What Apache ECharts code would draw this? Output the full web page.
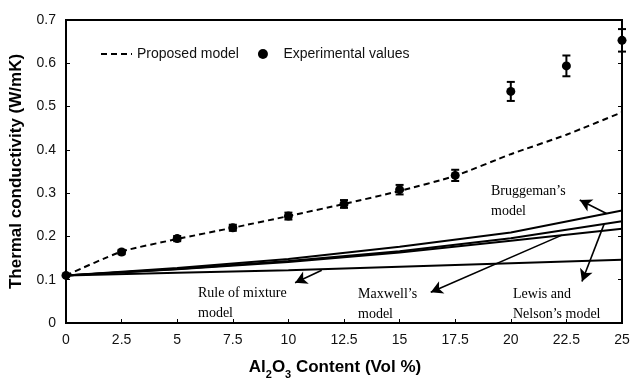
<!DOCTYPE html>
<html>
<head>
<meta charset="utf-8">
<script src="https://cdn.jsdelivr.net/npm/echarts@6/dist/echarts.min.js"></script>
<style>
  html, body { margin: 0; padding: 0; background: #fff; }
  #chart { width: 633px; height: 385px; }
</style>
</head>
<body>
<div id="chart"></div>
<script>
// Al2O3 content (vol %) where conductivity was measured / predicted
var contentVol = [0, 2.5, 5, 7.5, 10, 12.5, 15, 17.5, 20, 22.5, 25];
// Measured thermal conductivity (W/mK) and its spread
var experimental = [0.11, 0.164, 0.195, 0.220, 0.247, 0.275, 0.308, 0.341, 0.535, 0.594, 0.653];
var experimentalErr = [0, 0.005, 0.006, 0.007, 0.008, 0.009, 0.011, 0.013, 0.022, 0.024, 0.026];
// Proposed model prediction at the same contents
var proposedModel = [0.11, 0.165, 0.194, 0.220, 0.247, 0.275, 0.305, 0.340, 0.390, 0.435, 0.487];

// Classical models, evaluated every 5 vol %
var modelContent = [0, 5, 10, 15, 20, 25];
var bruggeman = [0.11, 0.127, 0.148, 0.176, 0.209, 0.260];
var lewisNelson = [0.11, 0.125, 0.143, 0.166, 0.196, 0.235];
var maxwell = [0.11, 0.124, 0.141, 0.163, 0.190, 0.218];
var ruleOfMixture = [0.11, 0.116, 0.122, 0.130, 0.138, 0.146];

var xTicks = [0, 2.5, 5, 7.5, 10, 12.5, 15, 17.5, 20, 22.5, 25];
var yTicks = [0, 0.1, 0.2, 0.3, 0.4, 0.5, 0.6, 0.7];

function pairs(xs, ys) {
  return xs.map(function (x, i) { return [x, ys[i]]; });
}

var chart = echarts.init(document.getElementById('chart'));

var labelFont = { fontFamily: 'Liberation Sans, Arial, sans-serif', fontSize: 14, color: '#111' };
var arrowStyle = { color: '#000', width: 1.6, type: 'solid' };

function arrow(from, to) {
  return {
    silent: true,
    symbol: ['none', 'arrow'],
    symbolSize: [10, 12],
    label: { show: false },
    lineStyle: arrowStyle,
    data: [[{ coord: from }, { coord: to }]]
  };
}

function modelLine(name, ys, arrowFrom, arrowTo) {
  return {
    name: name,
    type: 'line',
    data: pairs(modelContent, ys),
    symbol: 'none',
    lineStyle: { color: '#000', width: 2 },
    z: 3,
    markLine: arrow(arrowFrom, arrowTo)
  };
}

var option = {
  animation: false,
  backgroundColor: '#fff',
  grid: {
    left: 63, right: 11, top: 20, bottom: 56,
    show: true, borderColor: '#000', borderWidth: 2
  },
  legend: {
    left: 95, top: 42,
    itemWidth: 31, itemHeight: 10, itemGap: 19, itemTextGap: 8,
    textStyle: labelFont,
    data: [
      { name: 'Proposed model', itemStyle: { opacity: 0 } },
      { name: 'Experimental values', icon: 'circle' }
    ]
  },
  xAxis: {
    type: 'value', min: 0, max: 25, interval: 2.5,
    name: '{b|Al}{s|2}{b|O}{s|3}{b| Content (Vol %)}',
    nameLocation: 'middle', nameGap: 33,
    nameTextStyle: {
      padding: [0, 18, 0, 0],
      rich: {
        b: { fontFamily: 'Liberation Sans, Arial, sans-serif', fontSize: 17, fontWeight: 'bold', color: '#000', verticalAlign: 'bottom', lineHeight: 20 },
        s: { fontFamily: 'Liberation Sans, Arial, sans-serif', fontSize: 11, fontWeight: 'bold', color: '#000', verticalAlign: 'bottom', lineHeight: 14, padding: [0, 0, -4, 0] }
      }
    },
    axisLine: { lineStyle: { color: '#000', width: 2 } },
    axisTick: { inside: true, length: 4, lineStyle: { color: '#000', width: 1 } },
    axisLabel: Object.assign({ margin: 10, formatter: function (v) { return String(v); } }, labelFont),
    splitLine: { show: false }
  },
  yAxis: [{
    type: 'value', min: 0, max: 0.7, interval: 0.1,
    name: 'Thermal conductivity (W/mK)',
    nameLocation: 'middle', nameGap: 41,
    nameTextStyle: { fontFamily: 'Liberation Sans, Arial, sans-serif', fontSize: 17, fontWeight: 'bold', color: '#000' },
    axisLine: { show: true, lineStyle: { color: '#000', width: 2 } },
    axisTick: { show: true, inside: true, length: 4, lineStyle: { color: '#000', width: 1 } },
    axisLabel: Object.assign({ margin: 10, formatter: function (v) { return v === 0 ? '0' : v.toFixed(1); } }, labelFont),
    splitLine: { show: false }
  }, {
    type: 'value', min: 0, max: 0.7, interval: 0.1, position: 'right',
    axisLine: { show: true, lineStyle: { color: '#000', width: 2 } },
    axisTick: { show: true, inside: true, length: 4, lineStyle: { color: '#000', width: 1 } },
    axisLabel: { show: false },
    splitLine: { show: false }
  }],
  graphic: [
    { type: 'group', children: [
      ['Bruggeman’s', 491, 192], ['model', 491, 212],
      ['Lewis and', 513, 295], ['Nelson’s model', 513, 315],
      ['Maxwell’s', 358, 295], ['model', 358, 315],
      ['Rule of mixture', 198, 294], ['model', 198, 314]
    ].map(function (t) {
      return {
        type: 'text', left: t[1], top: t[2] - 8, silent: true,
        style: { text: t[0], fill: '#000', font: '14px "Liberation Serif", "Times New Roman", serif' }
      };
    }) }
  ],
  series: [
    modelLine('Bruggeman', bruggeman, [24.3, 0.253], [23.1, 0.284]),
    modelLine('Lewis and Nelson', lewisNelson, [24.2, 0.229], [23.2, 0.096]),
    modelLine('Maxwell', maxwell, [22.3, 0.203], [16.4, 0.071]),
    modelLine('Rule of mixture', ruleOfMixture, [11.5, 0.122], [10.3, 0.093]),
    {
      name: 'Proposed model',
      type: 'line',
      data: pairs(contentVol, proposedModel),
      symbol: 'none',
      smooth: 0.2,
      lineStyle: { color: '#000', width: 2, type: [6, 4] },
      itemStyle: { color: '#000' },
      z: 4
    },
    {
      name: 'Experimental values',
      type: 'custom',
      clip: false,
      z: 5,
      data: contentVol.map(function (x, i) { return [x, experimental[i], experimentalErr[i]]; }),
      renderItem: function (params, api) {
        var x = api.value(0), y = api.value(1), e = api.value(2);
        var hi = api.coord([x, y + e]);
        var lo = api.coord([x, y - e]);
        var c = api.coord([x, y]);
        var cap = 4;
        var children = [];
        if (e > 0) {
          var st = { stroke: '#000', lineWidth: 2 };
          children.push({ type: 'line', shape: { x1: hi[0], y1: hi[1], x2: lo[0], y2: lo[1] }, style: st });
          children.push({ type: 'line', shape: { x1: hi[0] - cap, y1: hi[1], x2: hi[0] + cap, y2: hi[1] }, style: st });
          children.push({ type: 'line', shape: { x1: lo[0] - cap, y1: lo[1], x2: lo[0] + cap, y2: lo[1] }, style: st });
        }
        children.push({ type: 'circle', shape: { cx: c[0], cy: c[1], r: 4.5 }, style: { fill: '#000' } });
        return { type: 'group', children: children };
      },
      itemStyle: { color: '#000' }
    }
  ]
};

chart.setOption(option);
</script>
</body>
</html>
